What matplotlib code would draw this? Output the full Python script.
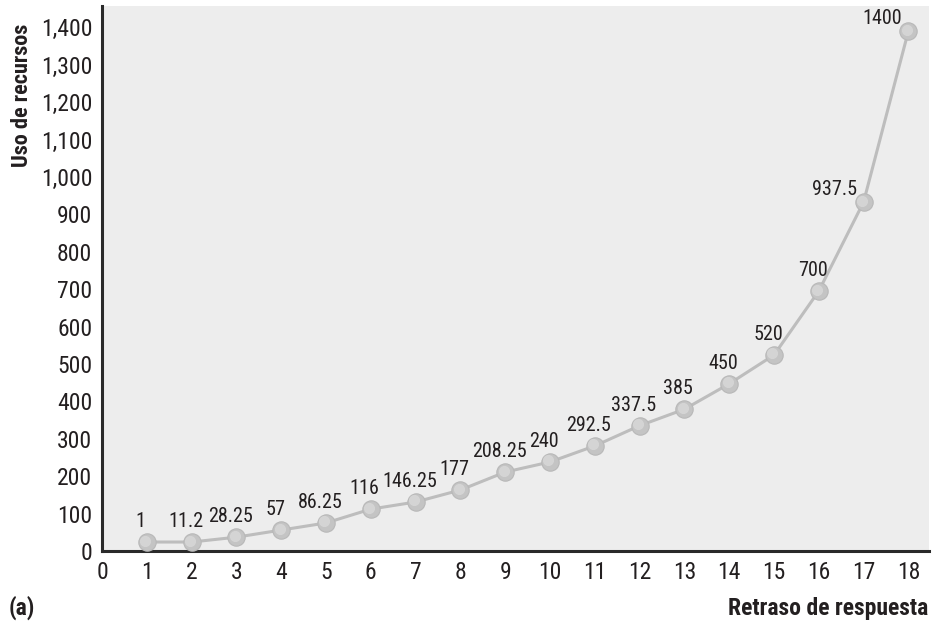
import matplotlib
matplotlib.use("Agg")
import matplotlib.pyplot as plt
from matplotlib.ticker import StrMethodFormatter
from matplotlib.transforms import offset_copy

plt.rcParams['font.family'] = ['Roboto Condensed', 'DejaVu Sans']

# Datos
retraso = list(range(1, 19))
uso = [24, 24, 37, 56, 75, 112, 131, 163, 211, 238, 281, 335, 379, 447, 524, 695, 933, 1390]
etiquetas = ["1", "11.2", "28.25", "57", "86.25", "116", "146.25", "177", "208.25",
             "240", "292.5", "337.5", "385", "450", "520", "700", "937.5", "1400"]

TXT = "#231f20"

fig = plt.figure(figsize=(9.39, 6.24), dpi=100)
ax = fig.add_axes([102 / 939, 73 / 624, 827 / 939, 545 / 624])
ax.set_facecolor("#ededed")

# línea y esferas
ax.plot(retraso, uso, color="#bdbdbd", lw=2.2, zorder=2)
ax.plot(retraso, uso, ls="none", marker="o", ms=12.5, mfc="#c4c4c4", mec="#b8b8b8",
        mew=0.8, zorder=3)
brillo = offset_copy(ax.transData, fig=fig, x=-1.5, y=1.5, units="dots")
ax.plot(retraso, uso, ls="none", marker="o", ms=8, mfc="#d9d9d9", mec="none",
        alpha=0.8, transform=brillo, zorder=4)

# etiquetas de valores
for i, (xi, yi, lab) in enumerate(zip(retraso, uso, etiquetas)):
    if i >= len(retraso) - 2:
        ax.annotate(lab, (xi, yi), xytext=(-6, 3), textcoords="offset pixels",
                    ha="right", va="bottom", fontsize=14.5, color=TXT, zorder=5)
    else:
        ax.annotate(lab, (xi, yi), xytext=(-6, 11), textcoords="offset pixels",
                    ha="center", va="bottom", fontsize=14.5, color=TXT, zorder=5)

ax.set_xlim(0, 18.46)
ax.set_ylim(0, 1457)
ax.set_xticks(range(0, 19))
ax.set_yticks(range(0, 1401, 100))
ax.yaxis.set_major_formatter(StrMethodFormatter("{x:,.0f}"))
ax.tick_params(length=0, labelsize=17, labelcolor=TXT)
ax.tick_params(axis="x", pad=7)
ax.tick_params(axis="y", pad=7)

for s in ["top", "right"]:
    ax.spines[s].set_visible(False)
for s in ["left", "bottom"]:
    ax.spines[s].set_color("#2a2a2a")
    ax.spines[s].set_linewidth(2.2)

fig.text(22 / 939, 1 - 95 / 624, "Uso de recursos", rotation=90, ha="center", va="center",
         fontsize=16, fontweight="bold", color=TXT)
fig.text(928 / 939, 9 / 624, "Retraso de respuesta", ha="right", va="baseline",
         fontsize=17, fontweight="bold", color=TXT)
fig.text(9 / 939, 9 / 624, "(a)", ha="left", va="baseline",
         fontsize=17, fontweight="bold", color=TXT)

fig.savefig("out.png", dpi=100)
